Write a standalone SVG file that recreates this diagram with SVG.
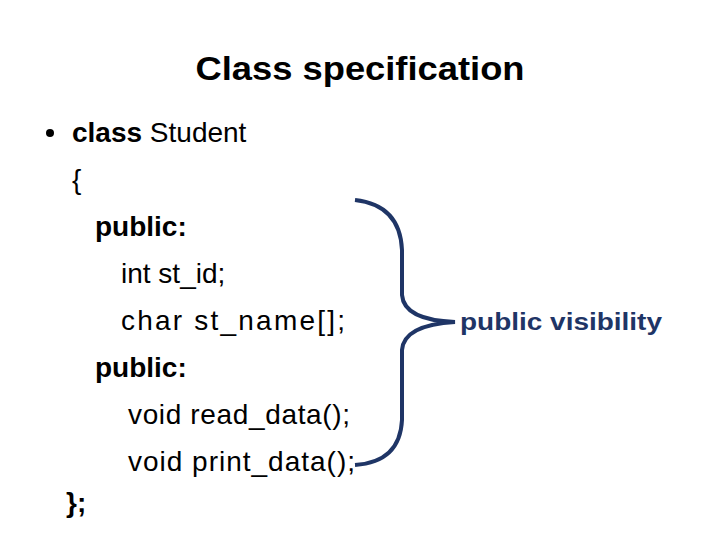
<svg xmlns="http://www.w3.org/2000/svg" width="720" height="540" viewBox="0 0 720 540">
<style>
.t{font-family:"Liberation Sans",Arial,sans-serif;font-size:28px;fill:#000}
.b{font-weight:bold}
</style>
<rect width="720" height="540" fill="#fff"/>
<g id="title"><text x="360" y="80" text-anchor="middle" class="t b" style="font-size:34px" textLength="329" lengthAdjust="spacingAndGlyphs">Class specification</text></g>
<g id="code">
<circle cx="50" cy="133" r="4" fill="#000"/>
<text class="t" x="72" y="142"><tspan class="b">class</tspan> Student</text>
<text class="t" x="72" y="189">{</text>
<text class="t b" x="95" y="236">public:</text>
<text class="t" x="121" y="283">int st_id;</text>
<text class="t" x="121" y="330" textLength="224">char st_name[];</text>
<text class="t b" x="95" y="377">public:</text>
<text class="t" x="128" y="424" textLength="222">void read_data();</text>
<text class="t" x="128" y="471" textLength="227">void print_data();</text>
<text class="t b" x="66" y="512">};</text>
</g>
<g id="connectors">
<path d="M355,200 Q400,205 402,250 L402,295 Q404,320 455,322 Q404,325 402,350 L402,420 Q400,462 355,465" fill="none" stroke="#1f3566" stroke-width="4"/>
</g>
<g id="label"><text x="460" y="330" class="t b" style="font-size:23px;fill:#1f3566" textLength="202" lengthAdjust="spacingAndGlyphs">public visibility</text></g>
</svg>
